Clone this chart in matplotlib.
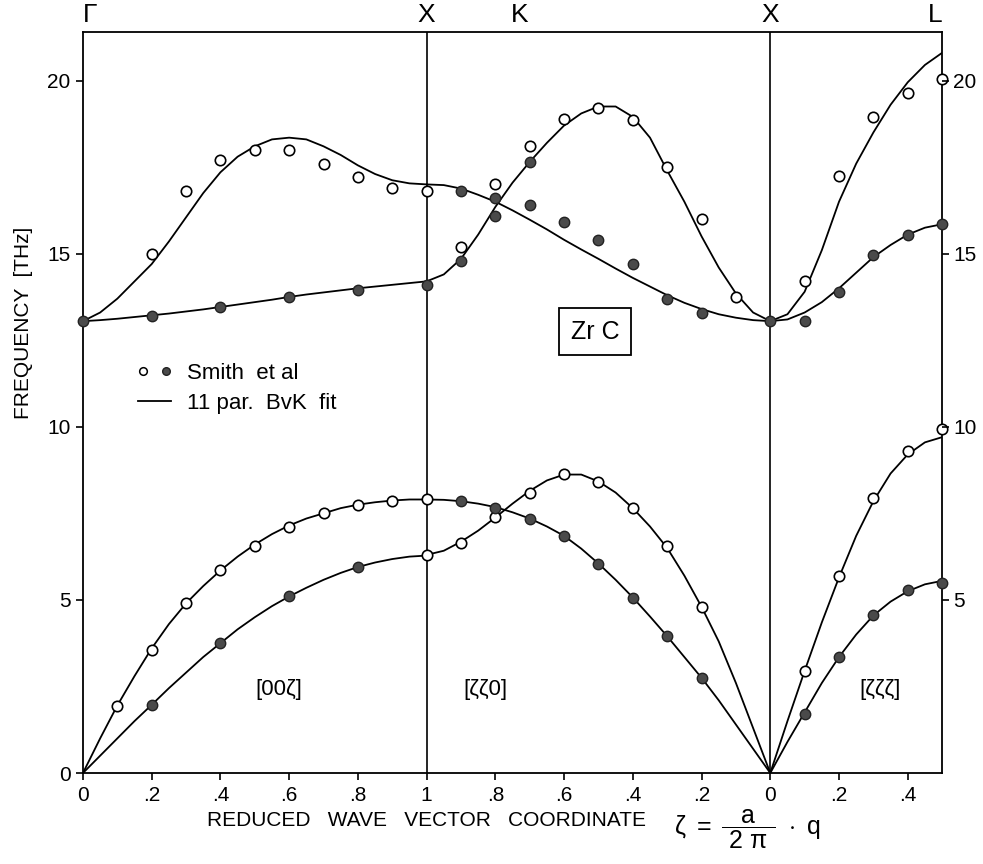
import matplotlib
matplotlib.use('Agg')
import matplotlib.pyplot as plt
from matplotlib.lines import Line2D
from matplotlib.legend_handler import HandlerTuple
from matplotlib.transforms import blended_transform_factory

plt.rcParams['font.family'] = ['Liberation Sans', 'DejaVu Sans']
plt.rcParams['mathtext.fontset'] = 'custom'
plt.rcParams['mathtext.rm'] = 'Liberation Sans'
plt.rcParams['mathtext.it'] = 'Liberation Sans'

# reduced wave vector grid of the fitted curves
z_full = [0.0, 0.05, 0.1, 0.15, 0.2, 0.25, 0.3, 0.35, 0.4, 0.45, 0.5,
          0.55, 0.6, 0.65, 0.7, 0.75, 0.8, 0.85, 0.9, 0.95, 1.0]
z_half = [0.0, 0.05, 0.1, 0.15, 0.2, 0.25, 0.3, 0.35, 0.4, 0.45, 0.5]

# Born-von Karman fit, [00ζ]
fit_00z_lo = [13.05, 13.3, 13.7, 14.2, 14.7, 15.35, 16.05, 16.75, 17.35, 17.8, 18.1,
              18.3, 18.35, 18.3, 18.1, 17.85, 17.55, 17.3, 17.12, 17.03, 17.0]
fit_00z_to = [13.05, 13.08, 13.12, 13.17, 13.22, 13.27, 13.33, 13.39, 13.46, 13.53, 13.6,
              13.67, 13.75, 13.82, 13.88, 13.94, 14.0, 14.05, 14.1, 14.15, 14.2]
fit_00z_la = [0.0, 1.0, 1.95, 2.8, 3.6, 4.3, 4.9, 5.4, 5.85, 6.25, 6.6,
              6.9, 7.15, 7.35, 7.5, 7.65, 7.75, 7.82, 7.87, 7.9, 7.9]
fit_00z_ta = [0.0, 0.5, 1.0, 1.5, 1.97, 2.45, 2.9, 3.35, 3.75, 4.15, 4.5,
              4.82, 5.1, 5.35, 5.58, 5.78, 5.95, 6.08, 6.18, 6.25, 6.28]

# [ζζ0]
fit_zz0_a = [13.05, 13.3, 13.85, 14.6, 15.5, 16.5, 17.4, 18.35, 18.95, 19.25, 19.25,
             19.05, 18.7, 18.2, 17.65, 17.05, 16.35, 15.55, 14.85, 14.4, 14.2]
fit_zz0_b = [13.05, 13.08, 13.15, 13.25, 13.4, 13.58, 13.8, 14.05, 14.3, 14.57, 14.85,
             15.12, 15.4, 15.7, 15.98, 16.25, 16.5, 16.7, 16.88, 16.98, 17.0]
fit_zz0_c = [0.0, 0.7, 1.4, 2.1, 2.75, 3.35, 3.95, 4.52, 5.07, 5.58, 6.05,
             6.48, 6.85, 7.12, 7.35, 7.53, 7.68, 7.78, 7.85, 7.89, 7.9]
fit_zz0_d = [0.0, 1.3, 2.6, 3.8, 4.8, 5.7, 6.5, 7.12, 7.65, 8.1, 8.42,
             8.62, 8.62, 8.45, 8.15, 7.78, 7.38, 7.0, 6.68, 6.42, 6.3]

# [ζζζ]
fit_zzz_lo = [13.05, 13.25, 13.9, 15.1, 16.5, 17.6, 18.5, 19.3, 19.95, 20.45, 20.8]
fit_zzz_to = [13.05, 13.1, 13.3, 13.6, 14.0, 14.45, 14.9, 15.25, 15.55, 15.75, 15.85]
fit_zzz_la = [0.0, 1.5, 2.95, 4.35, 5.65, 6.85, 7.85, 8.65, 9.2, 9.55, 9.7]
fit_zzz_ta = [0.0, 0.9, 1.75, 2.6, 3.35, 4.0, 4.55, 4.95, 5.25, 5.45, 5.55]

# measured frequencies (Smith et al), open and full symbols
open_00z_z = [0.1, 0.2, 0.3, 0.4, 0.5, 0.6, 0.7, 0.8, 0.9, 1.0, 1.0,
              0.2, 0.3, 0.4, 0.5, 0.6, 0.7, 0.8, 0.9, 1.0]
open_00z_f = [1.95, 3.55, 4.9, 5.85, 6.55, 7.1, 7.5, 7.75, 7.85, 7.9, 6.3,
              15.0, 16.8, 17.7, 18.0, 18.0, 17.6, 17.2, 16.9, 16.8]
full_00z_z = [0.2, 0.4, 0.6, 0.8, 0.0, 0.2, 0.4, 0.6, 0.8, 1.0]
full_00z_f = [1.97, 3.75, 5.1, 5.95, 13.05, 13.2, 13.45, 13.75, 13.95, 14.1]

open_zz0_z = [0.9, 0.8, 0.7, 0.6, 0.5, 0.4, 0.3, 0.2,
              0.9, 0.8, 0.7, 0.6, 0.5, 0.4, 0.3, 0.2, 0.1]
open_zz0_f = [6.65, 7.4, 8.1, 8.65, 8.4, 7.65, 6.55, 4.8,
              15.2, 17.0, 18.1, 18.9, 19.2, 18.85, 17.5, 16.0, 13.75]
full_zz0_z = [0.9, 0.8, 0.7, 0.6, 0.5, 0.4, 0.3, 0.2,
              0.9, 0.9, 0.8, 0.8, 0.7, 0.7, 0.6, 0.5, 0.4, 0.3, 0.2, 0.0]
full_zz0_f = [7.85, 7.65, 7.35, 6.85, 6.05, 5.05, 3.95, 2.75,
              16.8, 14.8, 16.6, 16.1, 17.65, 16.4, 15.9, 15.4, 14.7, 13.7, 13.3, 13.05]

open_zzz_z = [0.1, 0.2, 0.3, 0.4, 0.5, 0.1, 0.2, 0.3, 0.4, 0.5]
open_zzz_f = [2.95, 5.7, 7.95, 9.3, 9.95, 14.2, 17.25, 18.95, 19.65, 20.05]
full_zzz_z = [0.1, 0.2, 0.3, 0.4, 0.5, 0.1, 0.2, 0.3, 0.4, 0.5]
full_zzz_f = [1.7, 3.35, 4.55, 5.3, 5.5, 13.05, 13.9, 14.95, 15.55, 15.85]

tick_zeta_00z = [0, 0.2, 0.4, 0.6, 0.8, 1.0]
tick_zeta_zz0 = [0.8, 0.6, 0.4, 0.2, 0.0]
tick_zeta_zzz = [0.2, 0.4]
tick_labels = ['0', '.2', '.4', '.6', '.8', '1', '.8', '.6', '.4', '.2', '0', '.2', '.4']
y_ticks = [0, 5, 10, 15, 20]


# the three directions laid side by side on one axis
def s_00z(z):
    return [v for v in z]

def s_zz0(z):
    return [2.0 - v for v in z]

def s_zzz(z):
    return [2.0 + v for v in z]


fig = plt.figure(figsize=(9.83, 8.64), dpi=100)
ax = fig.add_axes([0.0844, 0.1053, 0.874, 0.8576])
ax.set_xlim(0, 2.5)
ax.set_ylim(0, 21.4)

line_kw = dict(color='black', lw=1.3, zorder=2, solid_capstyle='round')
for f in (fit_00z_lo, fit_00z_to, fit_00z_la, fit_00z_ta):
    ax.plot(s_00z(z_full), f, **line_kw)
for f in (fit_zz0_a, fit_zz0_b, fit_zz0_c, fit_zz0_d):
    ax.plot(s_zz0(z_full), f, **line_kw)
for f in (fit_zzz_lo, fit_zzz_to, fit_zzz_la, fit_zzz_ta):
    ax.plot(s_zzz(z_half), f, **line_kw)

open_kw = dict(ls='none', marker='o', ms=7.5, mfc='white', mec='black', mew=1.2,
               zorder=4, clip_on=False)
full_kw = dict(ls='none', marker='o', ms=7.5, mfc='#4a4a4a', mec='#222222', mew=1.0,
               zorder=4, clip_on=False)
ax.plot(s_00z(open_00z_z), open_00z_f, **open_kw)
ax.plot(s_00z(full_00z_z), full_00z_f, **full_kw)
ax.plot(s_zz0(open_zz0_z), open_zz0_f, **open_kw)
ax.plot(s_zz0(full_zz0_z), full_zz0_f, **full_kw)
ax.plot(s_zzz(open_zzz_z), open_zzz_f, **open_kw)
ax.plot(s_zzz(full_zzz_z), full_zzz_f, **full_kw)

# X points
ax.axvline(1.0, color='black', lw=1.2, zorder=1)
ax.axvline(2.0, color='black', lw=1.2, zorder=1)

for sp in ax.spines.values():
    sp.set_linewidth(1.3)

xt = s_00z(tick_zeta_00z) + s_zz0(tick_zeta_zz0) + s_zzz(tick_zeta_zzz)
ax.set_xticks(xt)
ax.set_xticklabels(tick_labels)
ax.set_yticks(y_ticks)
ax.tick_params(direction='out', length=5, width=1.2, labelsize=15, pad=4)

ax2 = ax.twinx()
ax2.set_ylim(0, 21.4)
ax2.set_yticks(y_ticks[1:])
ax2.tick_params(direction='out', length=5, width=1.2, labelsize=15, pad=3)
for sp in ax2.spines.values():
    sp.set_visible(False)

# symmetry points above the frame
for s, lab, ha in [(0.0, 'Γ', 'left'), (1.0, 'X', 'center'), (1.27, 'K', 'center'),
                   (2.0, 'X', 'center'), (2.5, 'L', 'right')]:
    ax.text(s, 21.55, lab, ha=ha, va='bottom', fontsize=19)

for s, lab in [(0.57, '[00ζ]'), (1.17, '[ζζ0]'), (2.32, '[ζζζ]')]:
    ax.text(s, 2.4, lab, ha='center', va='center', fontsize=16)

ax.text(1.49, 12.75, 'Zr C', ha='center', va='center', fontsize=18,
        bbox=dict(boxstyle='square,pad=0.45', fc='white', ec='black', lw=1.3))

h_open = Line2D([], [], ls='none', marker='o', ms=5.5, mfc='white', mec='black', mew=1.1)
h_full = Line2D([], [], ls='none', marker='o', ms=5.5, mfc='#4a4a4a', mec='#222222')
h_line = Line2D([], [], color='black', lw=1.3)
ax.legend([(h_open, h_full), h_line], ['Smith  et al', '11 par.  BvK  fit'],
          handler_map={tuple: HandlerTuple(ndivide=None, pad=0.6)},
          loc='upper left', bbox_to_anchor=(0.16, 11.85), bbox_transform=ax.transData,
          frameon=False, fontsize=16, handlelength=1.5, handletextpad=0.7,
          labelspacing=0.4, borderpad=0, borderaxespad=0)

tr = blended_transform_factory(ax.transAxes, ax.transData)
ax.text(-0.069, 13.0, 'FREQUENCY  [THz]', rotation=90, ha='center', va='center',
        fontsize=15, transform=tr)

ax.text(0.36, -1.36, 'REDUCED   WAVE   VECTOR   COORDINATE', ha='left', va='center',
        fontsize=15, clip_on=False)
ax.text(1.72, -1.62, r'$\zeta\ =\ \dfrac{a}{\ 2\ \pi\ }\ \cdot\ q$', ha='left', va='center',
        fontsize=18, clip_on=False)

fig.savefig('out.png', dpi=100)
